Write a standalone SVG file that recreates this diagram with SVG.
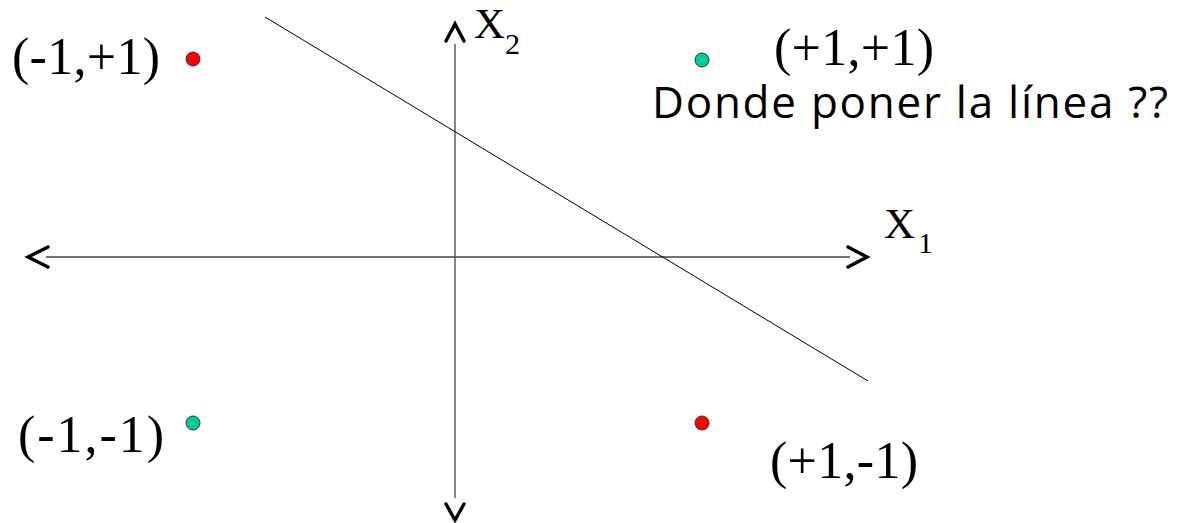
<svg xmlns="http://www.w3.org/2000/svg" width="1178" height="523" viewBox="0 0 1178 523">
  <style>
    .lbl { font-family: "Liberation Serif", "Times New Roman", serif; font-size: 52px; fill: #000; }
    .ax { font-family: "Liberation Serif", "Times New Roman", serif; fill: #000; }
    .q { font-family: "Comic Sans MS", "Open Sans", "DejaVu Sans", sans-serif; font-size: 44px; fill: #000; }
    .axis { stroke: #444; stroke-width: 1.3; fill: none; }
    .chev { stroke: #000; stroke-width: 3.4; fill: none; stroke-linecap: round; stroke-linejoin: miter; }
    .red { fill: #ff0000; stroke: #333; stroke-width: 1; }
    .green { fill: #00cc99; stroke: #333; stroke-width: 1; }
    .sep { stroke: #000; stroke-width: 1; fill: none; }
  </style>
  <rect width="1178" height="523" fill="#fff"/>
  <g id="connectors">
    <line class="axis" x1="46" y1="257" x2="850" y2="257"/>
    <line class="axis" x1="455" y1="44" x2="455" y2="498"/>
    <polyline class="chev" points="48,247 28,257 48,267"/>
    <polyline class="chev" points="848,247 867,257 848,267"/>
    <polyline class="chev" points="446,41 455,24 464,41"/>
    <polyline class="chev" points="446,504 455,520 464,504"/>
    <line class="sep" x1="265" y1="17" x2="868" y2="381"/>
  </g>
  <g id="axis-x1">
    <text class="ax" x="884" y="238" font-size="43">X</text>
    <text class="ax" x="918" y="253" font-size="30">1</text>
  </g>
  <g id="axis-x2">
    <text class="ax" x="474" y="38" font-size="43">X</text>
    <text class="ax" x="505" y="54" font-size="30">2</text>
  </g>
  <g id="p-m1-p1">
    <circle class="red" cx="193" cy="59" r="7"/>
    <text class="lbl" x="12" y="74" textLength="148">(-1,+1)</text>
  </g>
  <g id="p-p1-p1">
    <circle class="green" cx="702" cy="60" r="7"/>
    <text class="lbl" x="774" y="65" textLength="160">(+1,+1)</text>
  </g>
  <g id="p-m1-m1">
    <circle class="green" cx="193" cy="423" r="7"/>
    <text class="lbl" x="18" y="452" textLength="146">(-1,-1)</text>
  </g>
  <g id="p-p1-m1">
    <circle class="red" cx="702" cy="423" r="7"/>
    <text class="lbl" x="770" y="478" textLength="148">(+1,-1)</text>
  </g>
  <g id="question">
    <text class="q" x="652" y="118" textLength="516">Donde poner la línea ??</text>
  </g>
</svg>
